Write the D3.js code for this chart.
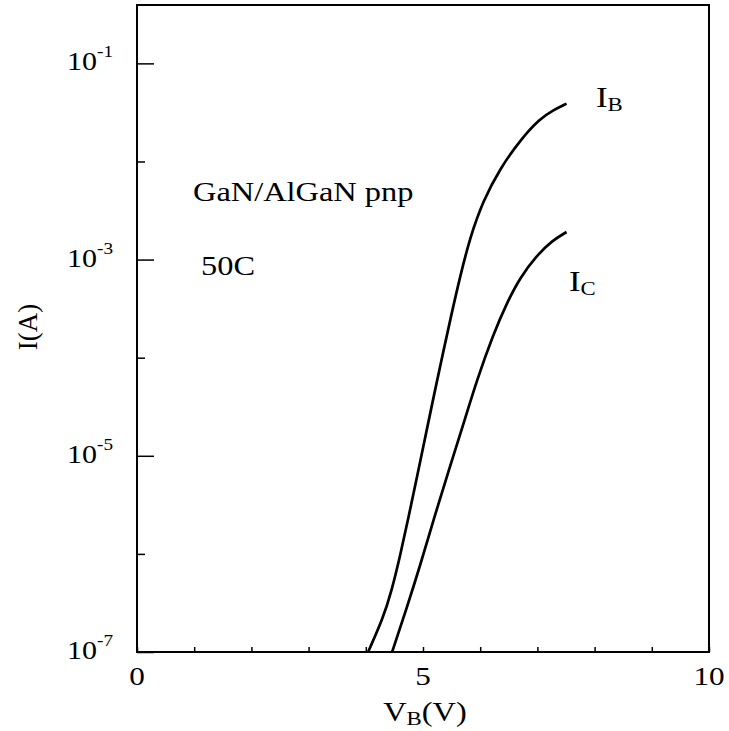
<!DOCTYPE html>
<html>
<head>
<meta charset="utf-8">
<script src="https://cdn.jsdelivr.net/npm/d3@7"></script>
<style>
  body { margin: 0; background: #fff; }
  svg text { font-family: "Liberation Serif", "Times New Roman", serif; fill: #000; }
</style>
</head>
<body>
<svg id="chart"></svg>
<script>
// Data: base voltage (V) and current (A)
const vbBase = [4.04, 4.30, 4.45, 4.60, 4.75, 4.90, 5.05, 5.20, 5.35, 5.50, 5.65, 5.82, 6.05, 6.35, 6.70, 7.05, 7.28, 7.51];
const iBase = [1.0e-7, 2.19e-7, 4.17e-7, 9.55e-7, 2.40e-6, 6.31e-6, 1.66e-5, 4.37e-5, 1.12e-4, 2.82e-4, 6.76e-4, 1.66e-3, 3.98e-3, 8.51e-3, 1.66e-2, 2.75e-2, 3.35e-2, 3.89e-2];
const vbColl = [4.46, 4.70, 4.95, 5.20, 5.45, 5.70, 5.94, 6.23, 6.46, 6.70, 6.99, 7.25, 7.51];
const iColl = [1.0e-7, 2.63e-7, 7.59e-7, 2.40e-6, 7.08e-6, 2.04e-5, 5.89e-5, 1.74e-4, 3.55e-4, 6.61e-4, 1.10e-3, 1.55e-3, 1.91e-3];

const xTicks = [0, 1, 2, 3, 4, 5, 6, 7, 8, 9, 10];
const xLabels = [0, 5, 10];
const yExps = [-1, -2, -3, -4, -5, -6, -7];
const yLabelExps = [-1, -3, -5, -7];

const W = 729, H = 731;
const margin = { top: 5, right: 20, bottom: 79, left: 137 };
const width = W - margin.left - margin.right;
const height = H - margin.top - margin.bottom;
const sx = 1.2; // the scanned lettering is wider than plain Times

const svg = d3.select("#chart").attr("width", W).attr("height", H);
const g = svg.append("g").attr("transform", `translate(${margin.left},${margin.top})`);

const x = d3.scaleLinear().domain([0, 10]).range([0, width]);
const y = d3.scaleLog().domain([1e-7, Math.pow(10, -0.405)]).range([height, 0]);

// text placed in a horizontally stretched group
function wideText(parent, px, py, size, anchor) {
    return parent.append("g")
        .attr("transform", `translate(${px},${py}) scale(${sx},1)`)
        .append("text")
        .attr("text-anchor", anchor || "start")
        .style("font-size", size + "px");
}

// Frame
g.append("rect")
    .attr("width", width)
    .attr("height", height)
    .attr("fill", "none")
    .attr("stroke", "#000")
    .attr("stroke-width", 2);

// X axis: small inward ticks
const xAxis = g.append("g")
    .attr("transform", `translate(0,${height})`)
    .call(d3.axisBottom(x).tickValues(xTicks).tickSize(-5).tickFormat(""));
xAxis.select(".domain").remove();
xAxis.selectAll("line").attr("stroke-width", 1.5);

xLabels.forEach(d => {
    wideText(g, x(d), height + 33, 26, "middle").text(d);
});

// Y axis: long ticks at labelled decades, short ones in between
const yAxis = g.append("g")
    .call(d3.axisLeft(y).tickValues(yExps.map(e => Math.pow(10, e))).tickSize(-17).tickFormat(""));
yAxis.select(".domain").remove();
yAxis.selectAll("line")
    .attr("stroke-width", 1.5)
    .attr("x2", d => yLabelExps.includes(Math.round(Math.log10(d))) ? 17 : 8);

yLabelExps.forEach(e => {
    const t = wideText(g, -24, y(Math.pow(10, e)) + 7, 25, "end");
    t.append("tspan").text("10");
    t.append("tspan").attr("dy", -13).style("font-size", "16px").text(e);
});

// Axis titles
const xTitle = wideText(svg, 425, 721, 27, "middle");
xTitle.append("tspan").text("V");
xTitle.append("tspan").attr("dy", 4).style("font-size", "19px").text("B");
xTitle.append("tspan").attr("dy", -4).text("(V)");

svg.append("text")
    .attr("transform", "translate(37,327) rotate(-90)")
    .attr("text-anchor", "middle")
    .style("font-size", "27px")
    .text("I(A)");

// Curves
const line = d3.line()
    .x(d => x(d[0]))
    .y(d => y(d[1]))
    .curve(d3.curveBasis);

const series = [
    { name: "B", v: vbBase, i: iBase },
    { name: "C", v: vbColl, i: iColl }
];

g.selectAll(".curve")
    .data(series)
    .enter().append("path")
    .attr("class", "curve")
    .attr("d", s => line(s.v.map((v, k) => [v, s.i[k]])))
    .attr("fill", "none")
    .attr("stroke", "#000")
    .attr("stroke-width", 2.7);

// Curve labels
function subLabel(px, py, sub) {
    const t = wideText(svg, px, py, 29);
    t.append("tspan").text("I");
    t.append("tspan").attr("dy", 4).style("font-size", "19px").text(sub);
}
subLabel(596, 107, "B");
subLabel(569, 291, "C");

// Annotations
wideText(svg, 193, 201, 27).text("GaN/AlGaN pnp");
wideText(svg, 201, 275, 27).text("50C");
</script>
</body>
</html>
